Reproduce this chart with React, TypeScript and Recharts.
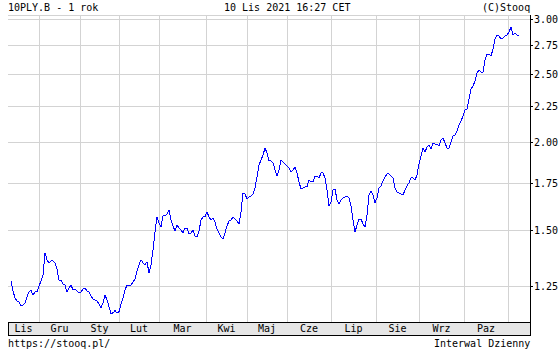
import React from 'react';
import { LineChart, Line, XAxis, YAxis, CartesianGrid } from 'recharts';

// 10PLY.B daily closes, Nov 2020 - Nov 2021
const closes = [
  1.271, 1.230, 1.202, 1.190, 1.186, 1.171, 1.175, 1.183, 1.206, 1.226,
  1.232, 1.214, 1.226, 1.226, 1.250, 1.271, 1.296, 1.394, 1.362, 1.349,
  1.358, 1.358, 1.349, 1.322, 1.275, 1.275, 1.258, 1.254, 1.226, 1.242,
  1.254, 1.234, 1.238, 1.230, 1.222, 1.226, 1.238, 1.242, 1.230, 1.226,
  1.210, 1.198, 1.194, 1.190, 1.179, 1.164, 1.183, 1.214, 1.194, 1.168,
  1.142, 1.145, 1.153, 1.145, 1.149, 1.179, 1.202, 1.234, 1.254, 1.250,
  1.254, 1.267, 1.279, 1.313, 1.340, 1.362, 1.349, 1.340, 1.353, 1.305,
  1.340, 1.408, 1.492, 1.568, 1.537, 1.517, 1.573, 1.573, 1.583, 1.604,
  1.552, 1.522, 1.497, 1.527, 1.512, 1.502, 1.488, 1.512, 1.512, 1.483,
  1.488, 1.502, 1.473, 1.468, 1.497, 1.552, 1.568, 1.568, 1.594, 1.568,
  1.552, 1.562, 1.542, 1.507, 1.488, 1.468, 1.459, 1.488, 1.522, 1.547,
  1.552, 1.568, 1.557, 1.547, 1.532, 1.594, 1.696, 1.691, 1.663, 1.674,
  1.680, 1.691, 1.724, 1.787, 1.859, 1.890, 1.921, 1.965, 1.934, 1.884,
  1.884, 1.872, 1.829, 1.793, 1.829, 1.890, 1.878, 1.866, 1.853, 1.841,
  1.817, 1.829, 1.847, 1.811, 1.759, 1.718, 1.724, 1.730, 1.730, 1.770,
  1.759, 1.759, 1.793, 1.793, 1.782, 1.811, 1.811, 1.782, 1.713, 1.626,
  1.647, 1.713, 1.718, 1.658, 1.636, 1.658, 1.669, 1.674, 1.680, 1.669,
  1.626, 1.552, 1.492, 1.527, 1.557, 1.557, 1.532, 1.517, 1.578, 1.685,
  1.707, 1.685, 1.642, 1.669, 1.724, 1.736, 1.764, 1.787, 1.805, 1.805,
  1.793, 1.782, 1.724, 1.702, 1.696, 1.691, 1.685, 1.713, 1.736, 1.753,
  1.782, 1.782, 1.770, 1.799, 1.866, 1.915, 1.965, 1.940, 1.972, 1.985,
  1.959, 1.998, 1.991, 1.991, 1.978, 2.017, 2.031, 1.998, 1.965, 1.965,
  2.004, 2.044, 2.051, 2.078, 2.119, 2.147, 2.183, 2.227, 2.234, 2.308,
  2.385, 2.408, 2.448, 2.513, 2.538, 2.521, 2.521, 2.623, 2.675, 2.675,
  2.658, 2.719, 2.810, 2.846, 2.837, 2.810, 2.819, 2.837, 2.846, 2.874,
  2.922, 2.846, 2.865, 2.846, 2.846,
];

const monthLabels = ['Lis', 'Gru', 'Sty', 'Lut', 'Mar', 'Kwi', 'Maj', 'Cze', 'Lip', 'Sie', 'Wrz', 'Paz'];
// month boundaries, in trading-day index
const monthStarts = [14, 34.5, 54, 74, 97.5, 118, 138, 160, 182.5, 204, 226.5, 248.5];
const yTicks = [1.25, 1.5, 1.75, 2, 2.25, 2.5, 2.75, 3];

const xDomain: [number, number] = [-1.5, 259.5];
const yDomain: [number, number] = [1.111, 3.04];

const data = closes.map((c, i) => ({ i, close: c }));
const monthMids = monthLabels.map((_, k) => ((k === 0 ? xDomain[0] : monthStarts[k - 1]) + monthStarts[k]) / 2);

const font = '"DejaVu Sans Mono", monospace';
const txt: React.CSSProperties = {
  position: 'absolute', fontFamily: font, fontSize: 10, lineHeight: '12px', whiteSpace: 'pre', color: '#000',
};

// vertical grid at month boundaries, placed with the x axis scale
const monthLines = ({ xAxis }: any) => {
  const s = xAxis?.scale;
  if (!s) return [];
  return monthStarts.map((v) => (typeof s === 'function' ? s(v) : s.map(v)));
};

export default function App() {
  return (
    <div style={{ position: 'absolute', left: 0, top: 0, width: 560, height: 350, background: '#fff' }}>
      <div style={{ ...txt, left: 8, top: 2 }}>10PLY.B - 1 rok</div>
      <div style={{ ...txt, left: 224, top: 2 }}>10 Lis 2021 16:27 CET</div>
      <div style={{ ...txt, left: 482, top: 2 }}>(C)Stooq</div>
      <div style={{
        position: 'absolute', left: 8, top: 322, width: 523, height: 14, boxSizing: 'border-box',
        background: '#e6e6e6', border: '1px solid #000',
      }} />
      <div style={{ position: 'absolute', left: 0, top: 0 }}>
        <LineChart width={560} height={350} data={data} margin={{ top: 15, right: 0, bottom: 15, left: 8 }}>
          <CartesianGrid stroke="#d3d3d3" shapeRendering="crispEdges" verticalCoordinatesGenerator={monthLines} />
          <XAxis
            dataKey="i"
            type="number"
            domain={xDomain}
            ticks={monthMids}
            tickFormatter={(v: number) => monthLabels[monthMids.indexOf(v)] ?? ''}
            interval={0}
            height={13}
            tickLine={false}
            tickSize={0}
            tickMargin={3}
            axisLine={{ stroke: '#000', shapeRendering: 'crispEdges' }}
            tick={{ fill: '#000', fontSize: 10, fontFamily: font }}
            allowDataOverflow
          />
          <XAxis
            xAxisId="top"
            orientation="top"
            dataKey="i"
            type="number"
            domain={xDomain}
            height={0}
            tick={false}
            tickLine={false}
            axisLine={{ stroke: '#000', shapeRendering: 'crispEdges' }}
            allowDataOverflow
          />
          <YAxis
            orientation="right"
            scale="log"
            domain={yDomain}
            ticks={yTicks}
            interval={0}
            width={30}
            tickSize={3}
            tickMargin={1}
            tickFormatter={(v: number) => v.toFixed(2)}
            axisLine={{ stroke: '#000', shapeRendering: 'crispEdges' }}
            tickLine={{ stroke: '#000', shapeRendering: 'crispEdges' }}
            tick={{ fill: '#000', fontSize: 10, fontFamily: font, textAnchor: 'start' }}
            allowDataOverflow
          />
          <YAxis
            yAxisId="left"
            orientation="left"
            scale="log"
            domain={yDomain}
            ticks={yTicks}
            interval={0}
            width={0}
            mirror
            tick={false}
            tickSize={3}
            axisLine={{ stroke: '#000', shapeRendering: 'crispEdges' }}
            tickLine={{ stroke: '#000', shapeRendering: 'crispEdges' }}
            allowDataOverflow
          />
          <Line
            type="linear"
            dataKey="close"
            stroke="#0000ff"
            strokeWidth={1}
            shapeRendering="crispEdges"
            dot={false}
            activeDot={false}
            isAnimationActive={false}
          />
        </LineChart>
      </div>
      <div style={{ ...txt, left: 8, top: 338 }}>https://stooq.pl/</div>
      <div style={{ ...txt, left: 434, top: 338 }}>Interwal Dzienny</div>
    </div>
  );
}
